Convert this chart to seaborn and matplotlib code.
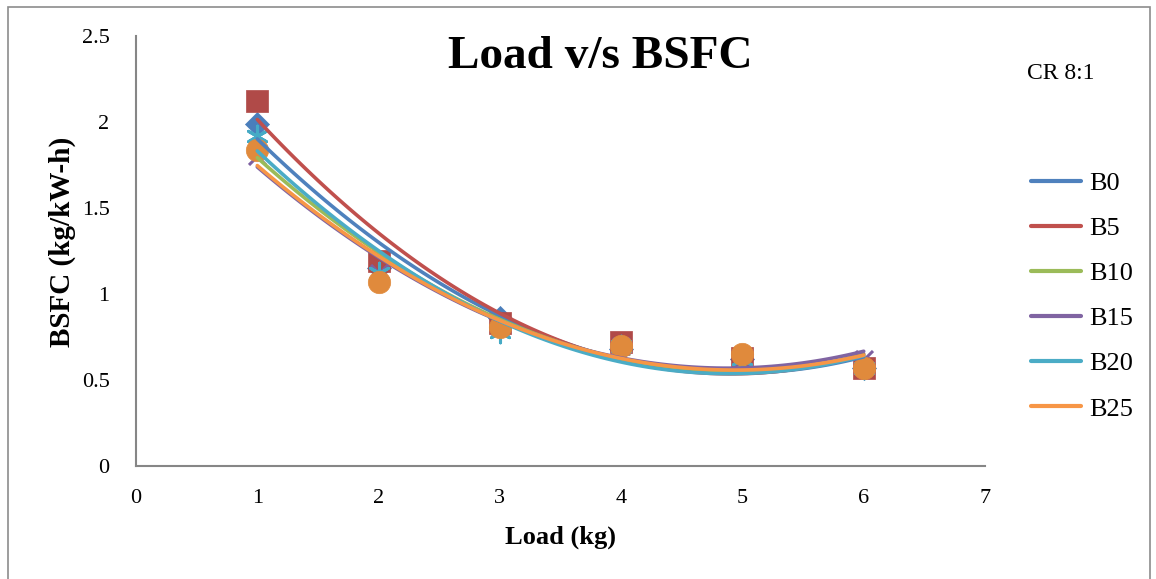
import matplotlib
matplotlib.use("Agg")
import matplotlib.pyplot as plt
import seaborn as sns
import numpy as np
import pandas as pd
from matplotlib.lines import Line2D
from matplotlib.patches import Rectangle

loads = [1, 2, 3, 4, 5, 6]
b0 = [1.99, 1.15, 0.86, 0.68, 0.62, 0.57]
b5 = [2.12, 1.19, 0.83, 0.72, 0.63, 0.57]
b10 = [1.88, 1.10, 0.82, 0.70, 0.63, 0.58]
b15 = [1.80, 1.12, 0.80, 0.70, 0.62, 0.62]
b20 = [1.92, 1.12, 0.78, 0.70, 0.62, 0.57]
b25 = [1.84, 1.07, 0.81, 0.70, 0.65, 0.57]
series_names = ["B0", "B5", "B10", "B15", "B20", "B25"]
series_vals = [b0, b5, b10, b15, b20, b25]

line_colors = ["#4F81BD", "#C0504D", "#9BBB59", "#8064A2", "#4BACC6", "#F79646"]
marker_colors = ["#4A7EBB", "#B04A48", "#98B954", "#7D60A0", "#46AAC5", "#E08A3C"]
markers = ["D", "s", "^", "x", "*", "o"]
sizes = [150, 260, 160, 150, 220, 260]

sns.set_theme(style="white")
plt.rcParams["font.family"] = ["Liberation Serif", "DejaVu Serif"]
plt.rcParams["text.color"] = "black"
plt.rcParams["axes.labelcolor"] = "black"

fig = plt.figure(figsize=(11.56, 5.79), dpi=100)
ax = fig.add_axes([136 / 1156, 1 - 466 / 579, (985 - 136) / 1156, (466 - 36) / 579])

# outer chart frame
fig.patches.append(Rectangle((8 / 1156, -0.05), (1150 - 8) / 1156, 1.05 - 7 / 579,
                             transform=fig.transFigure, fill=False, edgecolor="#8C8C8C",
                             linewidth=1.2, zorder=0))

for name, vals, mk, mc, s in zip(series_names, series_vals, markers, marker_colors, sizes):
    df = pd.DataFrame({"Load": loads, "BSFC": vals})
    if mk == "x":
        sns.scatterplot(data=df, x="Load", y="BSFC", marker=mk, color=mc, s=s,
                        linewidth=2.2, ax=ax, zorder=2, legend=False)
    elif mk == "*":
        sns.scatterplot(data=df, x="Load", y="BSFC", marker=(6, 2, 0), color=mc, s=s,
                        linewidth=2.2, edgecolor=mc, ax=ax, zorder=2, legend=False)
    else:
        sns.scatterplot(data=df, x="Load", y="BSFC", marker=mk, color=mc, s=s,
                        linewidth=0.5, edgecolor=mc, ax=ax, zorder=2, legend=False)

for name, vals, lc in zip(series_names, series_vals, line_colors):
    df = pd.DataFrame({"Load": loads, "BSFC": vals})
    sns.regplot(data=df, x="Load", y="BSFC", order=2, ci=None, scatter=False,
                truncate=True, color=lc, line_kws={"linewidth": 2.6, "zorder": 3,
                                                   "solid_capstyle": "round"}, ax=ax)

ax.set_xlim(0, 7)
ax.set_ylim(0, 2.5)
ax.set_xticks(range(0, 8))
ax.set_yticks([0, 0.5, 1, 1.5, 2, 2.5])
ax.set_yticklabels(["0", "0.5", "1", "1.5", "2", "2.5"])
ax.set_xticklabels([str(i) for i in range(0, 8)])

for side in ["top", "right"]:
    ax.spines[side].set_visible(False)
for side in ["left", "bottom"]:
    ax.spines[side].set_color("#868686")
    ax.spines[side].set_linewidth(1.5)
ax.tick_params(axis="both", which="major", direction="out", length=6, width=1.2,
               color="#868686", labelsize=16, labelcolor="black")
ax.tick_params(axis="y", pad=13)
ax.tick_params(axis="x", pad=10.5)
ax.set_xlabel("Load (kg)", fontsize=19, fontweight="bold")
ax.set_ylabel("BSFC (kg/kW-h)", fontsize=21, fontweight="bold")
ax.xaxis.set_label_coords(0.5, -(537 - 466) / 430, transform=ax.transAxes)
ax.yaxis.set_label_coords((62 - 136) / 849, (466 - 241.5) / 430, transform=ax.transAxes)
ax.xaxis.label.set_va("center")
ax.yaxis.label.set_va("center")
ax.grid(False)

fig.text(600 / 1156, 1 - 57 / 579, "Load v/s BSFC", fontsize=34, fontweight="bold",
         ha="center", va="center", color="black")
fig.text(1061 / 1156, 1 - 74 / 579, "CR 8:1", fontsize=17, ha="center", va="center",
         color="black")

handles = [Line2D([0], [0], color=c, lw=3, solid_capstyle="round") for c in line_colors]
fig.legend(handles, series_names, loc="center left", bbox_to_anchor=(1031 / 1156, 1 - 296 / 579),
           frameon=False, fontsize=19, handlelength=1.9, labelspacing=0.82,
           handletextpad=0.3, borderaxespad=0, borderpad=0)

fig.savefig("out.png", dpi=100)
